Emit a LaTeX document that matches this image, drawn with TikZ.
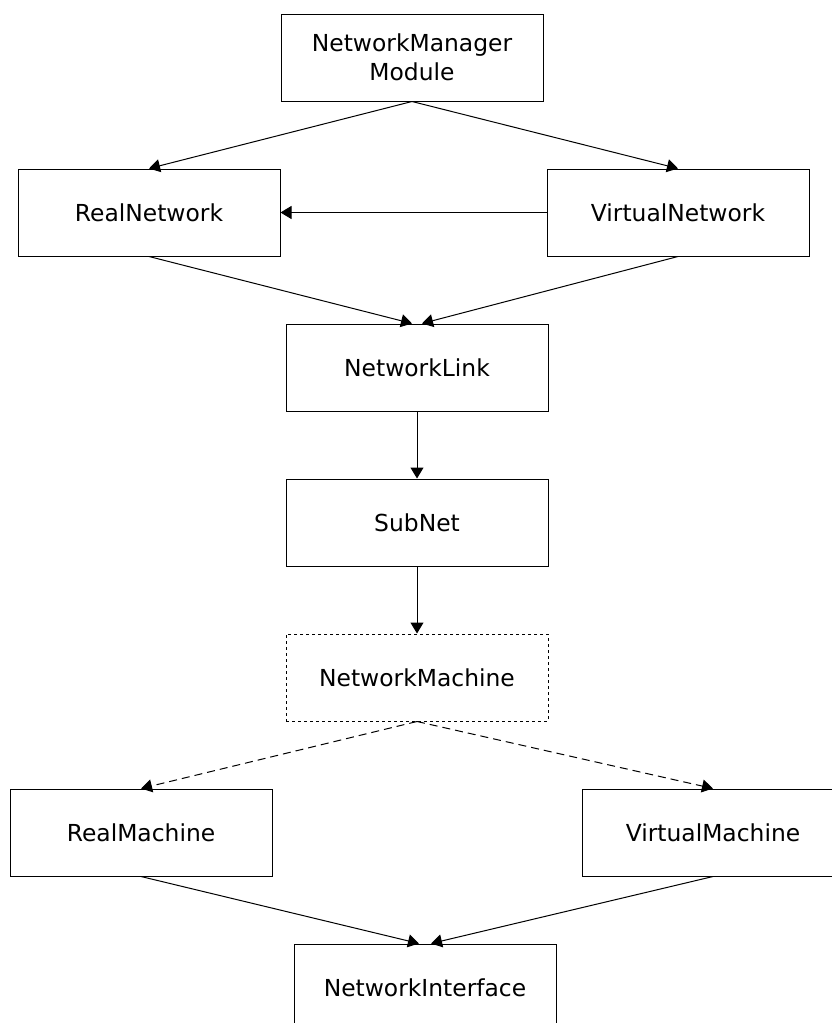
\documentclass[tikz,border=0pt]{standalone}
\usepackage{fontspec}
\setmainfont{DejaVu Sans}
\usetikzlibrary{positioning,arrows.meta}

\begin{document}
\begin{tikzpicture}[node distance=77.5pt,
	box/.style={rectangle, draw, line width=0.5pt, minimum width=131pt, minimum height=43.5pt, align=center, font=\fontsize{11.7}{14.5}\selectfont},
	ghostbox/.style={box, dash pattern=on 1.5pt off 1.5pt},
	link/.style={-{Triangle[length=5.5pt,width=6.5pt]}, line width=0.5pt},
	maybelink/.style={link, dash pattern=on 4pt off 2.5pt}]
					\useasboundingbox (0,0) rectangle (415.5pt,-511.5pt);

					\node[box] (nm) at (206pt,-28.75pt) {NetworkManager\\Module};
					\node[box] (rn)[below of = nm, xshift=-131.5pt] {RealNetwork};
					\node[box] (vn)[below of = nm, xshift=133pt] {VirtualNetwork};
					\node[box] (nl)[below of = rn, xshift=134pt] {NetworkLink};
					\node[box] (sn)[below of = nl] {SubNet};
					\node[ghostbox] (nmach)[below of = sn] {NetworkMachine};
					\node[box] (rm)[below of = nmach, xshift=-138pt] {RealMachine};
					\node[box] (vm)[below of = nmach, xshift=148pt] {VirtualMachine};
					\node[box] (ni)[below of = rm, xshift=142pt] {NetworkInterface};

					\draw[link] (nm.south) -- (rn.north);
					\draw[link] (nm.south) -- (vn.north);
					\draw[link] (vn.west) -- (rn.east);
					\draw[link] (rn.south) -- ([xshift=-2.5pt]nl.north);
					\draw[link] (vn.south) -- ([xshift=2.5pt]nl.north);
					\draw[link] (nl.south) -- (sn.north);
					\draw[link] (sn.south) -- (nmach.north);

					\draw[maybelink] (nmach.south) -- (rm.north);
					\draw[maybelink] (nmach.south) -- (vm.north);

					\draw[link] (rm.south) -- ([xshift=-3pt]ni.north);
					\draw[link] (vm.south) -- ([xshift=3pt]ni.north);
				\end{tikzpicture}
\end{document}
